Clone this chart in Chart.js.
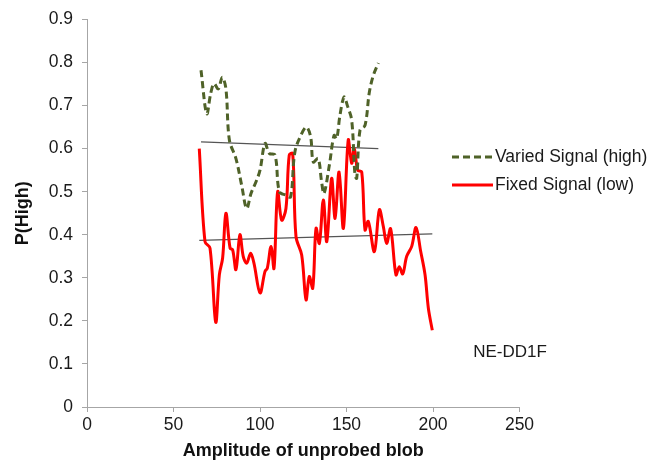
<!DOCTYPE html>
<html>
<head>
<meta charset="utf-8">
<script src="https://cdn.jsdelivr.net/npm/chart.js@4.4.1/dist/chart.umd.min.js"></script>
<style>
  html, body { margin: 0; padding: 0; background: #ffffff; }
  #wrap { width: 661px; height: 465px; position: relative; }
</style>
</head>
<body>
<div id="wrap"><canvas id="chart" width="661" height="465"></canvas></div>
<script>
// Amplitude of the unprobed blob (x) and P(High) for each condition
const variedX = [65.9, 69.2, 71.5, 73.4, 75.9, 78.2, 80.3, 82.3, 86.1, 89.4, 92.3, 94.8, 97.7, 100.0,
  102.9, 105.4, 108.7, 111.2, 115.0, 117.7, 120.2, 124.1, 126.9, 129.3, 130.8, 133.6, 135.6, 137.0,
  140.1, 142.8, 144.3, 146.2, 148.6, 150.5, 153.0, 154.9, 155.9, 157.8, 160.7, 163.2, 165.5, 168.4];
const variedY = [0.782, 0.681, 0.728, 0.751, 0.739, 0.766, 0.739, 0.620, 0.577, 0.515, 0.461, 0.496, 0.523, 0.550,
  0.612, 0.589, 0.585, 0.500, 0.492, 0.488, 0.593, 0.635, 0.650, 0.627, 0.569, 0.577, 0.523, 0.496,
  0.562, 0.631, 0.623, 0.677, 0.720, 0.700, 0.666, 0.539, 0.531, 0.643, 0.654, 0.731, 0.770, 0.799];

const fixedX = [64.9, 68.2, 71.1, 74.4, 76.5, 78.4, 80.3, 82.7, 84.2, 86.1, 88.4, 90.3, 92.3, 94.6, 96.5,
  100.0, 102.9, 104.2, 106.4, 108.1, 110.2, 112.5, 115.0, 116.9, 118.9, 120.8, 124.1, 126.6, 128.5, 130.5,
  132.4, 134.3, 136.6, 138.6, 141.4, 143.4, 145.7, 148.2, 151.0, 153.0, 154.5, 156.5, 158.8, 160.7, 162.6,
  166.1, 169.0, 171.3, 173.2, 175.5, 178.6, 180.5, 182.5, 184.8, 187.7, 190.2, 192.9, 195.4, 197.3, 199.6];
const fixedY = [0.600, 0.384, 0.369, 0.197, 0.307, 0.346, 0.450, 0.369, 0.365, 0.319, 0.400, 0.350, 0.334, 0.357, 0.334,
  0.265, 0.315, 0.322, 0.373, 0.322, 0.500, 0.434, 0.461, 0.585, 0.589, 0.396, 0.353, 0.249, 0.303, 0.276,
  0.415, 0.380, 0.481, 0.384, 0.531, 0.438, 0.546, 0.415, 0.620, 0.566, 0.600, 0.550, 0.546, 0.411, 0.431,
  0.361, 0.458, 0.419, 0.380, 0.414, 0.307, 0.326, 0.309, 0.350, 0.373, 0.417, 0.361, 0.307, 0.230, 0.178];

// Linear trend lines (start and end points)
const variedTrendX = [65.9, 168.4];
const variedTrendY = [0.616, 0.600];
const fixedTrendX = [64.9, 199.6];
const fixedTrendY = [0.387, 0.402];

const seriesNames = ['Varied Signal (high)', 'Fixed Signal (low)'];
const panelLabel = 'NE-DD1F';
const xTicks = [0, 50, 100, 150, 200, 250];
const yTicks = [0, 0.1, 0.2, 0.3, 0.4, 0.5, 0.6, 0.7, 0.8, 0.9];

const GREEN = '#4f6228';
const RED = '#ff0000';
const TREND = '#555555';
const AXIS = '#a6a6a6';
const FONT = "'Liberation Sans', Arial, sans-serif";

const pts = (xs, ys) => xs.map((x, i) => ({ x, y: ys[i] }));

// Legend and panel label drawn at the right of the plot
const sideLegend = {
  id: 'sideLegend',
  afterDraw(chart) {
    const ctx = chart.ctx;
    ctx.save();
    ctx.font = '17.5px ' + FONT;
    ctx.textBaseline = 'middle';
    ctx.textAlign = 'left';
    ctx.fillStyle = '#1a1a1a';

    ctx.lineWidth = 3;
    ctx.strokeStyle = GREEN;
    ctx.setLineDash([7, 4]);
    ctx.beginPath(); ctx.moveTo(452, 157); ctx.lineTo(493, 157); ctx.stroke();
    ctx.fillText(seriesNames[0], 495, 157);

    ctx.setLineDash([]);
    ctx.strokeStyle = RED;
    ctx.beginPath(); ctx.moveTo(452, 185); ctx.lineTo(493, 185); ctx.stroke();
    ctx.fillText(seriesNames[1], 495, 185);

    ctx.font = '17px ' + FONT;
    ctx.textAlign = 'center';
    ctx.fillText(panelLabel, 510, 352);
    ctx.restore();
  }
};

new Chart(document.getElementById('chart'), {
  type: 'line',
  data: {
    datasets: [
      { label: seriesNames[0], data: pts(variedX, variedY), borderColor: GREEN, borderWidth: 3,
        borderDash: [7, 4], tension: 0.35, pointRadius: 0, fill: false },
      { label: seriesNames[1], data: pts(fixedX, fixedY), borderColor: RED, borderWidth: 3,
        tension: 0.35, pointRadius: 0, fill: false },
      { label: 'trend-varied', data: pts(variedTrendX, variedTrendY), borderColor: TREND, borderWidth: 1.3,
        pointRadius: 0, fill: false },
      { label: 'trend-fixed', data: pts(fixedTrendX, fixedTrendY), borderColor: TREND, borderWidth: 1.3,
        pointRadius: 0, fill: false }
    ]
  },
  options: {
    responsive: false,
    animation: false,
    layout: { padding: { top: 17, right: 141.5, bottom: 0, left: 0 } },
    plugins: { legend: { display: false }, tooltip: { enabled: false } },
    scales: {
      x: {
        type: 'linear', min: 0, max: 250,
        afterFit: s => { s.height = 58; },
        afterBuildTicks: s => { s.ticks = xTicks.map(v => ({ value: v })); },
        grid: { drawOnChartArea: false, drawTicks: true, tickLength: 5, color: AXIS },
        border: { display: true, color: AXIS, width: 1 },
        ticks: { color: '#1a1a1a', font: { family: FONT, size: 17.5 }, padding: 3, maxRotation: 0, autoSkip: false },
        title: { display: true, text: 'Amplitude of unprobed blob', color: '#111',
          font: { family: FONT, size: 18, weight: 'bold' }, padding: { top: 0, bottom: 3 } }
      },
      y: {
        type: 'linear', min: 0, max: 0.9,
        afterFit: s => { s.width = 87; },
        afterBuildTicks: s => { s.ticks = yTicks.map(v => ({ value: v })); },
        grid: { drawOnChartArea: false, drawTicks: true, tickLength: 5, color: AXIS },
        border: { display: true, color: AXIS, width: 1 },
        ticks: { color: '#1a1a1a', font: { family: FONT, size: 17.5 }, padding: 9,
          callback: v => (v === 0 ? '0' : v.toFixed(1)) },
        title: { display: true, text: 'P(High)', color: '#111',
          font: { family: FONT, size: 18, weight: 'bold' }, padding: { top: 12, bottom: 0 } }
      }
    }
  },
  plugins: [sideLegend]
});
</script>
</body>
</html>
